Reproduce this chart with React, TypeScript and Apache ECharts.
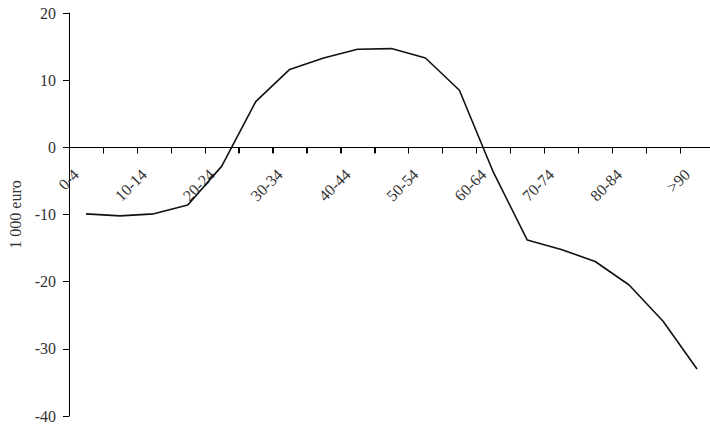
import React, { useEffect, useRef } from "react";
import * as echarts from "echarts";

const categories = [
  "0-4", "5-9", "10-14", "15-19", "20-24", "25-29", "30-34", "35-39", "40-44",
  "45-49", "50-54", "55-59", "60-64", "65-69", "70-74", "75-79", "80-84", "85-89", ">90",
];
const values = [
  -9.9, -10.2, -9.9, -8.6, -2.8, 6.8, 11.6, 13.3, 14.6, 14.7, 13.3, 8.5,
  -3.7, -13.8, -15.2, -17.0, -20.5, -25.9, -33.0,
];
const yMin = -40;
const yMax = 20;
const yStep = 10;
const yName = "1 000 euro";

export default function App() {
  const ref = useRef<HTMLDivElement>(null);
  useEffect(() => {
    document.body.style.margin = "0";
    const chart = echarts.init(ref.current!, null, { renderer: "svg" });
    const font = "'Liberation Serif', 'DejaVu Serif', serif";
    const gridH = 403;
    const zeroOffset = (gridH * (0 - yMin)) / (yMax - yMin);
    chart.setOption({
      animation: false,
      backgroundColor: "#fff",
      grid: {
        left: 69, top: 13, width: 645, height: gridH,
        containLabel: false, outerBoundsMode: "none",
      },
      xAxis: [
        {
          type: "category",
          data: categories,
          boundaryGap: true,
          axisLine: { onZero: true, lineStyle: { color: "#000", width: 1 } },
          axisTick: { show: true, interval: 0, length: 6, lineStyle: { color: "#000", width: 1 } },
          axisLabel: { show: false },
          splitLine: { show: false },
        },
        {
          type: "category",
          data: categories,
          boundaryGap: true,
          position: "bottom",
          offset: -zeroOffset,
          axisLine: { show: false, onZero: false },
          axisTick: { show: false },
          axisLabel: {
            interval: 1,
            rotate: 45,
            margin: 26,
            verticalAlign: "bottom",
            padding: [0, 6, 0, 0],
            fontFamily: font,
            fontSize: 16,
            color: "#333",
          },
          splitLine: { show: false },
        },
      ],
      yAxis: {
        type: "value",
        min: yMin,
        max: yMax,
        interval: yStep,
        name: yName,
        nameLocation: "middle",
        nameGap: 46,
        nameTextStyle: { fontFamily: font, fontSize: 16, color: "#333" },
        axisLine: { show: true, lineStyle: { color: "#000", width: 1 } },
        axisTick: { show: true, length: 6, lineStyle: { color: "#000" } },
        axisLabel: { margin: 13, fontFamily: font, fontSize: 16, color: "#333" },
        splitLine: { show: false },
      },
      series: [
        {
          type: "custom",
          xAxisIndex: 0,
          silent: true,
          data: categories.map((_, i) => [i, 0]),
          renderItem: (params: any, api: any) => {
            const p = api.coord([api.value(0), 0]);
            const w = api.size([1, 0])[0];
            const x = Math.round(p[0] - w / 2) + 0.5;
            return {
              type: "line",
              shape: { x1: x, y1: p[1], x2: x, y2: p[1] + 6 },
              style: { stroke: "#000", lineWidth: 1 },
            };
          },
        },
        {
          type: "line",
          xAxisIndex: 0,
          data: values,
          showSymbol: false,
          symbol: "none",
          lineStyle: { color: "#111", width: 1.6 },
        },
      ],
    });
    return () => chart.dispose();
  }, []);
  return <div ref={ref} style={{ width: 710, height: 426 }} />;
}
